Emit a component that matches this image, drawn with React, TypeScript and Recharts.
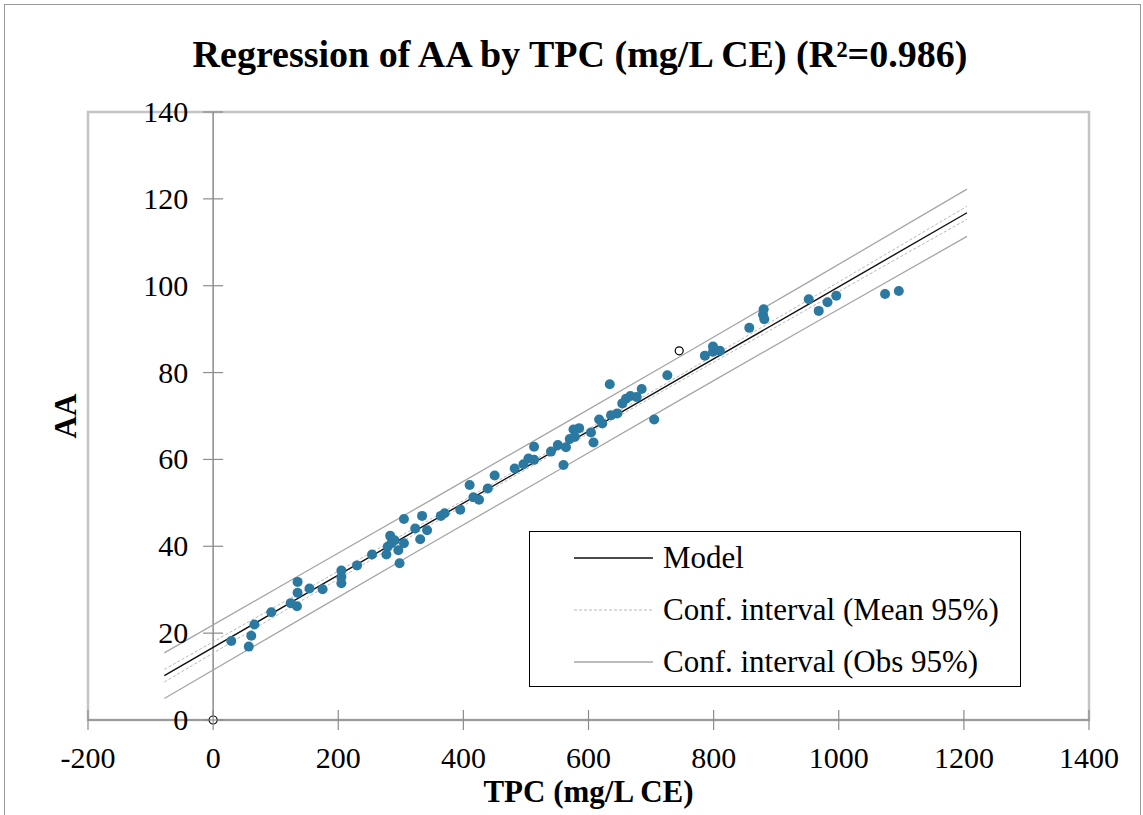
import React from 'react';
import {
  ScatterChart, Scatter, XAxis, YAxis, ReferenceLine, ReferenceArea
} from 'recharts';

const tpcValues = [
  29, 57, 61, 66, 93, 124, 134, 135, 135, 154, 175, 205, 205, 205, 230, 254, 277, 279, 283, 285,
  290, 296, 298, 305, 305, 323, 331, 334, 342, 364, 370, 395, 410, 416, 425, 439, 450, 482, 496, 504,
  513, 513, 540, 551, 560, 564, 570, 576, 578, 585, 604, 608, 617, 622, 634, 636, 646, 654, 660, 667,
  677, 685, 705, 726, 786, 799, 799, 810, 857, 880, 879, 881, 952, 968, 982, 996, 1074, 1096,
];
const aaValues = [
  18.2, 16.9, 19.4, 22.0, 24.8, 26.9, 26.2, 29.3, 31.8, 30.3, 30.1, 34.4, 32.9, 31.5, 35.6, 38.1, 38.1, 39.9, 42.4, 40.7,
  41.4, 39.1, 36.1, 46.3, 40.7, 44.1, 41.6, 47.0, 43.7, 47.0, 47.6, 48.4, 54.1, 51.3, 50.7, 53.3, 56.3, 57.9, 58.9, 60.2,
  62.9, 59.9, 61.8, 63.3, 58.7, 62.8, 64.7, 66.9, 65.2, 67.2, 66.2, 63.9, 69.2, 68.3, 77.3, 70.2, 70.6, 72.9, 74.0, 74.6,
  74.4, 76.2, 69.2, 79.4, 83.9, 86.0, 84.8, 85.0, 90.3, 94.6, 93.3, 92.3, 96.9, 94.2, 96.2, 97.7, 98.1, 98.8,
];
// excluded observations (hollow markers)
const outTpc = [0, 745];
const outAa = [0, 85.0];

// model and intervals
const lineX = [-78, 150, 350, 560, 750, 950, 1205];
const modelY = [10.2, 29.2, 45.8, 63.2, 79.0, 95.6, 116.8];
const meanHi = [11.65, 30.2, 46.45, 63.7, 79.68, 96.6, 118.3];
const meanLo = [8.75, 28.2, 45.15, 62.7, 78.32, 94.6, 115.3];
const obsHi = [15.45, 34.3, 50.8, 68.2, 84.0, 100.7, 122.25];
const obsLo = [4.95, 24.1, 40.8, 58.2, 74.0, 90.5, 111.35];

const xTicks = [-200, 0, 200, 400, 600, 800, 1000, 1200, 1400];
const yTicks = [0, 20, 40, 60, 80, 100, 120, 140];

const legendRows = [
  { label: 'Model', stroke: '#111', dash: undefined, w: 1.4 },
  { label: 'Conf. interval (Mean 95%)', stroke: '#b8b8b8', dash: '3 2', w: 1 },
  { label: 'Conf. interval (Obs 95%)', stroke: '#a6a6a6', dash: undefined, w: 1.3 },
];

const toPts = (xs: number[], ys: number[]) => xs.map((x, i) => ({ x, y: ys[i] }));
const obsData = toPts(tpcValues, aaValues);
const outData = toPts(outTpc, outAa);

const W = 1143;
const H = 815;
const M = { top: 112, right: 54, bottom: 65, left: 48 };
const PLOT_L = 88;
const PLOT_R = W - M.right;
const X_MIN = -200;
const X_MAX = 1400;
// pixel shift from plot left edge to x = 0 (where the y axis crosses)
const Y_AXIS_SHIFT = ((0 - X_MIN) / (X_MAX - X_MIN)) * (PLOT_R - PLOT_L);

const FONT = '"Liberation Serif", "Times New Roman", serif';
const DOT = '#2b79a1';

const XTick = ({ x, y, payload }: any) => (
  <g>
    <line x1={x} x2={x} y1={y - 10} y2={y + 10} stroke="#8c8c8c" strokeWidth={1.2} />
    <text x={x} y={y + 48} textAnchor="middle" fontFamily={FONT} fontSize={30} fill="#000">
      {payload.value}
    </text>
  </g>
);

const YTick = ({ x, y, payload }: any) => {
  const ax = x + Y_AXIS_SHIFT;
  return (
    <g>
      <line x1={ax - 10} x2={ax + 10} y1={y} y2={y} stroke="#8c8c8c" strokeWidth={1.2} />
      <text x={ax - 25} y={y + 10} textAnchor="end" fontFamily={FONT} fontSize={30} fill="#000">
        {payload.value}
      </text>
    </g>
  );
};

const noShape = () => <g />;

const LegendBox = () => (
  <svg width={492} height={156} style={{ display: 'block' }}>
    <rect x={0.5} y={0.5} width={491} height={155} fill="#fff" stroke="#000" strokeWidth={1} />
    {legendRows.map((r, i) => (
      <g key={r.label}>
        <line x1={45} x2={124} y1={27 + i * 52} y2={27 + i * 52}
          stroke={r.stroke} strokeWidth={r.w} strokeDasharray={r.dash} />
        <text x={134} y={37 + i * 52} fontFamily={FONT} fontSize={31} fill="#000">{r.label}</text>
      </g>
    ))}
  </svg>
);

export default function App() {
  return (
    <div style={{ position: 'absolute', left: 0, top: 0, width: W, height: H, background: '#fff', overflow: 'hidden' }}>
      <div style={{ position: 'absolute', left: 4, top: 4, width: W - 8, height: H + 10, border: '1.5px solid #9a9a9a' }} />
      <div style={{
        position: 'absolute', left: 0, top: 32, width: 1160, textAlign: 'center',
        fontFamily: FONT, fontWeight: 'bold', fontSize: 38, lineHeight: '44px', color: '#000',
      }}>
        Regression of AA by TPC (mg/L CE) (R²=0.986)
      </div>
      <div style={{
        position: 'absolute', left: PLOT_L, width: PLOT_R - PLOT_L, top: 774, textAlign: 'center',
        fontFamily: FONT, fontWeight: 'bold', fontSize: 31, lineHeight: '36px', color: '#000',
      }}>
        TPC (mg/L CE)
      </div>
      <div style={{
        position: 'absolute', left: 66, top: 416, transform: 'translate(-50%, -50%) rotate(-90deg)',
        fontFamily: FONT, fontWeight: 'bold', fontSize: 31, lineHeight: '36px', color: '#000', whiteSpace: 'nowrap',
      }}>
        AA
      </div>
      <div style={{ position: 'absolute', left: 0, top: 0 }}>
        <ScatterChart width={W} height={H} margin={M}>
          <ReferenceArea x1={-200} x2={1400} y1={0} y2={140} fill="none" stroke="#c4c4c4" strokeWidth={2.5} />
          <XAxis
            type="number" dataKey="x" domain={[X_MIN, X_MAX]} ticks={xTicks} height={30}
            tickSize={0} tickMargin={0} tickLine={false} interval={0}
            axisLine={{ stroke: '#9a9a9a', strokeWidth: 2 }} tick={<XTick />}
          />
          <YAxis
            type="number" dataKey="y" domain={[0, 140]} ticks={yTicks} width={40}
            tickSize={0} tickMargin={0} tickLine={false} axisLine={false} interval={0} tick={<YTick />}
          />
          <ReferenceLine x={0} stroke="#8c8c8c" strokeWidth={1.5} />
          <Scatter name="Conf. interval (Obs 95%)" data={toPts(lineX, obsHi)} line={{ stroke: '#a6a6a6', strokeWidth: 1.3 }} shape={noShape} isAnimationActive={false} />
          <Scatter name="obsLo" data={toPts(lineX, obsLo)} line={{ stroke: '#a6a6a6', strokeWidth: 1.3 }} shape={noShape} isAnimationActive={false} />
          <Scatter name="Conf. interval (Mean 95%)" data={toPts(lineX, meanHi)} line={{ stroke: '#b8b8b8', strokeWidth: 1, strokeDasharray: '3 2' }} shape={noShape} isAnimationActive={false} />
          <Scatter name="meanLo" data={toPts(lineX, meanLo)} line={{ stroke: '#b8b8b8', strokeWidth: 1, strokeDasharray: '3 2' }} shape={noShape} isAnimationActive={false} />
          <Scatter name="Model" data={toPts(lineX, modelY)} line={{ stroke: '#111', strokeWidth: 1.4 }} shape={noShape} isAnimationActive={false} />
          <Scatter
            name="AA" data={obsData} isAnimationActive={false}
            shape={(p: any) => <circle cx={p.cx} cy={p.cy} r={5} fill={DOT} />}
          />
          <Scatter
            name="excluded" data={outData} isAnimationActive={false}
            shape={(p: any) => <circle cx={p.cx} cy={p.cy} r={4} fill="#fff" stroke="#000" strokeWidth={1.2} />}
          />
        </ScatterChart>
      </div>
      <div style={{ position: 'absolute', left: 529, top: 531 }}>
        <LegendBox />
      </div>
    </div>
  );
}
